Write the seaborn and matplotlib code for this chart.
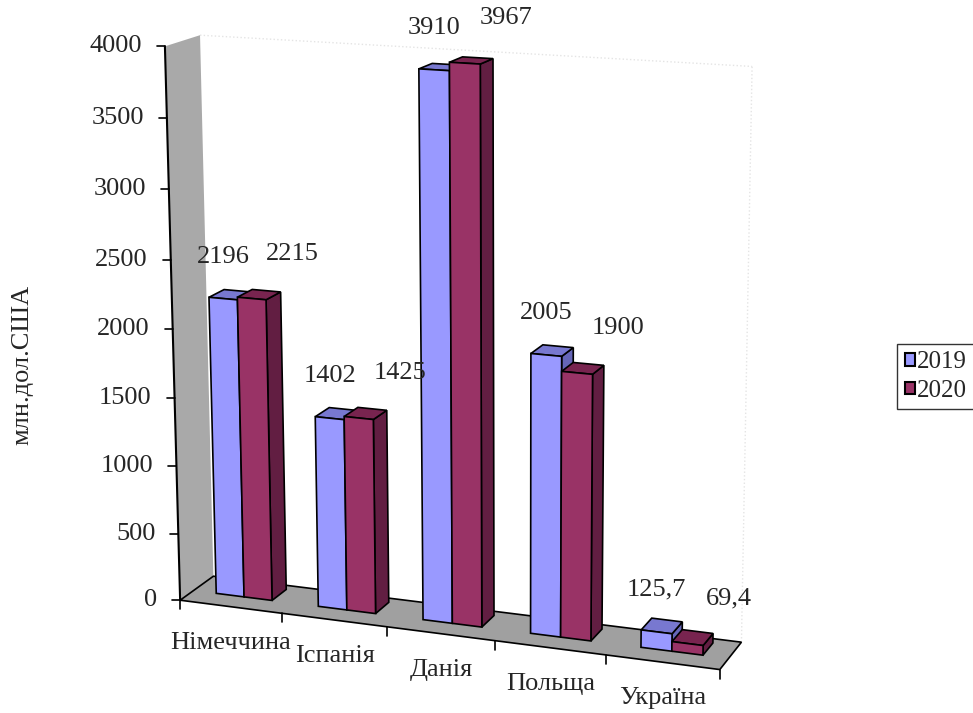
import numpy as np
import pandas as pd
import matplotlib
matplotlib.use("Agg")
import matplotlib.pyplot as plt
import matplotlib.transforms as mtransforms
from matplotlib.patches import Polygon, Patch
import seaborn as sns

# ---- data -------------------------------------------------------------
countries = ["Німеччина", "Іспанія", "Данія", "Польща", "Україна"]
years = ["2019", "2020"]
values_2019 = [2196, 1402, 3910, 2005, 125.7]
values_2020 = [2215, 1425, 3967, 1900, 69.4]
y_ticks = [0, 500, 1000, 1500, 2000, 2500, 3000, 3500, 4000]
y_title = "млн.дол.США"

# ---- style ------------------------------------------------------------
front_colors = {"2019": "#9999FF", "2020": "#993366"}
top_colors = {"2019": "#7878D0", "2020": "#78244F"}
side_colors = {"2019": "#6666B8", "2020": "#621E42"}
WALL = "#A9A9A9"
FLOOR = "#A0A0A0"
FS = 19

W, H = 973, 713
sns.set_style("white")
plt.rcParams["font.family"] = ["Liberation Serif", "DejaVu Serif"]

# ---- perspective camera for the 3-D box --------------------------------
# world: (category position, depth 0..1, value in thousands) -> image pixels
frame_world = np.array([
    [0, 0, 0], [1, 0, 0], [2, 0, 0], [3, 0, 0], [4, 0, 0], [5, 0, 0],
    [0, 1, 0], [5, 1, 0], [0, 0, 4], [0, 1, 4], [5, 1, 4]], float)
frame_pixel = np.array([
    [182, 600], [283, 613], [387, 627], [494, 641], [605, 655], [721, 670],
    [212, 577], [742, 641], [164, 46], [201, 35], [752, 67]], float)


def fit_camera(world, pix):
    pix = pix / 1000.0
    rows = []
    for (X, D, Z), (u, v) in zip(world, pix):
        rows.append([X, D, Z, 1, 0, 0, 0, 0, -u * X, -u * D, -u * Z, -u])
        rows.append([0, 0, 0, 0, X, D, Z, 1, -v * X, -v * D, -v * Z, -v])
    _, _, vt = np.linalg.svd(np.array(rows))
    return vt[-1].reshape(3, 4)


CAM = fit_camera(frame_world, frame_pixel)


def project(X, D, value):
    h = CAM @ np.array([X, D, value / 1000.0, 1.0])
    return 1000.0 * h[:2] / h[2]


class FrontProjection(mtransforms.Transform):
    """Maps (categorical x, value) on a plane of fixed depth to pixels."""
    input_dims = 2
    output_dims = 2
    is_separable = False
    has_inverse = False

    def __init__(self, plane_depth):
        super().__init__()
        self.plane_depth = plane_depth

    def transform_non_affine(self, xy):
        xy = np.atleast_2d(np.asarray(xy, float))
        return np.array([project(x + 0.5, self.plane_depth, y) for x, y in xy])


fig = plt.figure(figsize=(W / 100, H / 100), dpi=100)
pix = mtransforms.Affine2D().scale(1.0 / W, -1.0 / H).translate(0, 1) + fig.transFigure

ax = fig.add_axes([0, 0, 1, 1])
df = pd.DataFrame({
    "country": countries * 2,
    "year": [years[0]] * len(countries) + [years[1]] * len(countries),
    "value": values_2019 + values_2020,
})
sns.barplot(data=df, x="country", y="value", hue="year", order=countries,
            hue_order=years, palette=[front_colors[y] for y in years],
            width=0.55, saturation=1, edgecolor="black", linewidth=1.2,
            legend=False, errorbar=None, ax=ax)
ax.set_axis_off()

EDGE = dict(edgecolor="black", linewidth=1.2, joinstyle="miter")

# left wall and floor
wall = [project(0, 0, 0), project(0, 1, 0), project(0, 1, 4000), project(0, 0, 4000)]
ax.add_patch(Polygon(wall, closed=True, facecolor=WALL, edgecolor="none",
                     transform=pix, zorder=1, clip_on=False))
floor = [project(0, 0, 0), project(5, 0, 0), project(5, 1, 0), project(0, 1, 0)]
ax.add_patch(Polygon(floor, closed=True, facecolor=FLOOR, transform=pix,
                     zorder=2, clip_on=False, **EDGE))

# faint outline of the back wall
for a, b in [((0, 1, 4000), (5, 1, 4000)), ((5, 1, 0), (5, 1, 4000))]:
    p, q = project(*a), project(*b)
    ax.plot([p[0], q[0]], [p[1], q[1]], color="#E4E4E4", lw=1, ls=":",
            transform=pix, zorder=1.5, clip_on=False)

# value axis on the wall edge
p0, p1 = project(0, 0, 0), project(0, 0, 4000)
ax.plot([p0[0], p1[0]], [p0[1], p1[1]], color="black", lw=1.5,
        transform=pix, zorder=3, clip_on=False)
for v in y_ticks:
    p = project(0, 0, v)
    ax.plot([p[0] - 8, p[0]], [p[1], p[1]], color="black", lw=1.2,
            transform=pix, zorder=3, clip_on=False)
    ax.text(p[0] - 23, p[1], f"{v}", ha="right", va="center", fontsize=FS,
            transform=pix, zorder=3)

# category axis along the floor front edge
for i in range(len(countries) + 1):
    p = project(i, 0, 0)
    ax.plot([p[0], p[0]], [p[1], p[1] + 9], color="black", lw=1.2,
            transform=pix, zorder=3, clip_on=False)
for i, name in enumerate(countries):
    p = project(i + 0.5, 0, 0)
    ax.text(p[0], p[1] + 36, name, ha="center", va="center", fontsize=FS,
            transform=pix, zorder=3)

# 3-D bars: seaborn draws the front faces, sides and tops added per bar
D_FRONT, D_BACK = 0.40, 0.85
bars = []
for year, cont in zip(years, ax.containers):
    for rect in cont:
        bars.append((year, rect))
bars.sort(key=lambda b: b[1].get_x())

label_offset = {"2019": (0, -42), "2020": (41, -45)}
for k, (year, rect) in enumerate(bars):
    x0 = rect.get_x() + 0.5
    x1 = x0 + rect.get_width()
    v = rect.get_height()
    z = 10 + k * 0.1
    side = [project(x1, D_FRONT, 0), project(x1, D_BACK, 0),
            project(x1, D_BACK, v), project(x1, D_FRONT, v)]
    top = [project(x0, D_FRONT, v), project(x1, D_FRONT, v),
           project(x1, D_BACK, v), project(x0, D_BACK, v)]
    ax.add_patch(Polygon(side, closed=True, facecolor=side_colors[year],
                         transform=pix, zorder=z, clip_on=False, **EDGE))
    ax.add_patch(Polygon(top, closed=True, facecolor=top_colors[year],
                         transform=pix, zorder=z + 0.01, clip_on=False, **EDGE))
    rect.set_transform(FrontProjection(D_FRONT) + pix)
    rect.set_zorder(z + 0.02)
    rect.set_clip_on(False)
    rect.set_joinstyle("miter")

    c = project((x0 + x1) / 2, D_FRONT, v)
    dx, dy = label_offset[year]
    ax.text(c[0] + dx, c[1] + dy, f"{v:g}".replace(".", ","), ha="center",
            va="center", fontsize=FS, transform=pix, zorder=20)

# axis title
fig.text(22 / W, 1 - 365 / H, y_title, rotation=90, ha="center", va="center",
         fontsize=FS)

# legend (its frame runs past the right edge of the figure)
handles = [Patch(facecolor=front_colors[y], edgecolor="black", linewidth=1.5)
           for y in years]
leg = fig.legend(handles, years, loc="upper left",
                 bbox_to_anchor=(897 / W, 1 - 344 / H), frameon=True,
                 fancybox=False, edgecolor="black", fontsize=18,
                 handlelength=0.4, handleheight=0.4, handletextpad=0.1,
                 borderpad=0.3, labelspacing=0.25, borderaxespad=0)
leg.get_frame().set_linewidth(1.0)

fig.savefig("out.png", dpi=100, facecolor="white")
